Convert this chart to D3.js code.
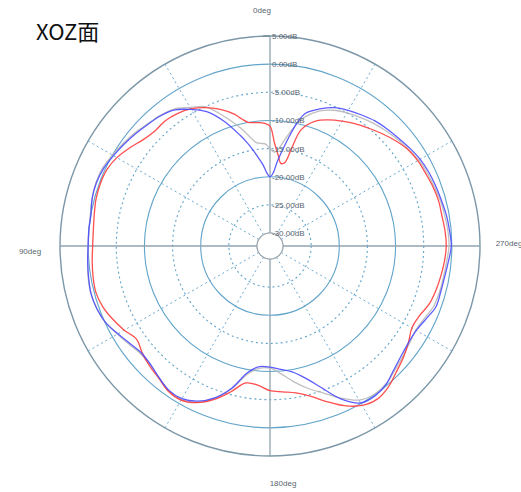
<!DOCTYPE html>
<html>
<head>
<meta charset="utf-8">
<style>
  body { margin: 0; background: #fff; }
  svg { display: block; }
</style>
</head>
<body>
<div id="container"></div>
<script src="https://cdn.jsdelivr.net/npm/d3@7"></script>
<script>
// chart size
const width = 521;
const height = 492;
const cx = 270;
const cy = 246;

// ring levels (dB) and spoke angles (deg, counter-clockwise from top)
const ringLevels = [5, 0, -5, -10, -15, -20, -25, -30];
const spokeAngles = [0, 30, 60, 90, 120, 150, 180, 210, 240, 270, 300, 330];
const angleLabels = ["0deg", "90deg", "180deg", "270deg"];

// measurement angles (deg)
const angles = [0, 2.5, 5, 7.5, 10, 12.5, 15, 20, 25, 30, 35, 40, 45, 50, 55, 60, 65, 70, 75, 80, 85, 90,
  95, 100, 105, 110, 115, 120, 125, 130, 135, 140, 145, 150, 155, 160, 165, 170, 175, 180,
  185, 190, 195, 200, 205, 210, 215, 220, 225, 230, 235, 240, 245, 250, 255, 260, 265, 270,
  275, 280, 285, 290, 295, 300, 305, 310, 315, 320, 325, 330, 335, 340, 345, 347.5, 350, 352.5, 355, 357.5];

// gain (dB) per series
const blueGain = [-20.0, -19.3, -17.8, -16.5, -15.0, -13.5, -12.0, -8.8, -6.0, -4.3, -2.8, -2.1, -1.7, -1.2, -0.7, -0.2, 0.3, 0.5, 0.4, 0.0, 0.0, 0.0,
  0.2, 0.4, 0.6, 0.4, -0.1, -1.1, -2.0, -2.6, -2.4, -1.7, -1.0, -1.0, -1.9, -3.6, -6.2, -9.5, -10.8, -10.8,
  -10.3, -9.6, -8.0, -5.5, -2.3, -0.1, 0.2, -0.2, -1.2, -1.9, -2.3, -2.3, -1.7, -0.9, -0.9, -0.8, -0.5, -0.1,
  -0.3, -0.5, -0.8, -1.0, -1.2, -1.5, -2.0, -2.5, -2.9, -3.3, -3.9, -4.5, -5.2, -6.4, -7.9, -9.8, -12.5, -15.0, -17.2, -19.3];

const redGain = [-11.0, -10.5, -10.3, -10.2, -10.0, -9.2, -8.1, -6.5, -5.2, -4.2, -3.6, -3.3, -3.4, -2.9, -1.9, -0.9, -0.3, -0.2, -0.3, -0.6, -0.8, -0.8,
  -0.6, -0.4, -0.3, -0.7, -1.5, -2.4, -3.4, -2.7, -2.1, -1.6, -0.8, -0.7, -1.6, -3.3, -5.5, -7.6, -7.5, -6.6,
  -6.3, -5.8, -4.7, -2.9, -1.0, 0.4, 0.9, 0.4, -0.6, -1.4, -2.3, -3.2, -3.0, -2.2, -1.8, -1.5, -1.2, -1.0,
  -1.1, -1.3, -1.3, -1.5, -1.8, -2.0, -2.4, -3.2, -4.1, -5.0, -5.8, -6.7, -7.6, -8.7, -10.9, -14.5, -17.3, -17.5, -16.0, -14.0];

const grayGain = [-15.0, -14.2, -14.0, -13.8, -12.8, -11.5, -10.2, -7.6, -5.0, -3.9, -2.6, -2.0, -1.6, -1.0, -0.5, 0.0, 0.5, 0.6, 0.4, 0.1, 0.0, 0.0,
  0.2, 0.5, 0.6, 0.4, -0.1, -1.0, -1.8, -2.4, -2.3, -1.7, -1.0, -0.8, -1.7, -3.5, -6.0, -9.2, -10.5, -10.6,
  -9.5, -7.8, -6.1, -4.5, -2.5, -0.7, -0.1, -0.3, -1.0, -1.6, -2.1, -2.4, -2.0, -1.3, -1.1, -1.0, -0.8, -0.5,
  -0.6, -0.8, -1.0, -1.3, -1.5, -1.8, -2.3, -2.8, -3.3, -3.8, -4.4, -5.0, -5.7, -6.8, -8.6, -10.0, -11.8, -13.5, -15.0, -15.6];

const series = [
  { name: "gray", values: grayGain, color: "#b8b8b8" },
  { name: "red", values: redGain, color: "#ff3b3b" },
  { name: "blue", values: blueGain, color: "#4b4bff" }
];

// radial scale: dB -> pixels
const r = d3.scaleLinear().domain([-30, 5]).range([13, 210]);
const toRad = d => -d * Math.PI / 180; // counter-clockwise from top

const svg = d3.create("svg")
  .attr("width", width)
  .attr("height", height);

const g = svg.append("g").attr("transform", `translate(${cx},${cy})`);

// rings
g.selectAll("circle.ring")
  .data(ringLevels)
  .join("circle")
  .attr("class", "ring")
  .attr("r", d => r(d))
  .attr("fill", "none")
  .attr("stroke", d => d === 5 ? "#7c97a8" : (d === -30 ? "#9aa6ae" : "#62a4ca"))
  .attr("stroke-width", d => d === 5 ? 1.4 : 1.1)
  .attr("stroke-dasharray", d => d % 10 === 0 || d === 5 ? null : "2,3");

// spokes
g.selectAll("line.spoke")
  .data(spokeAngles.filter(a => a % 90 !== 0))
  .join("line")
  .attr("class", "spoke")
  .attr("x1", a => -r(-30) * Math.sin(a * Math.PI / 180))
  .attr("y1", a => -r(-30) * Math.cos(a * Math.PI / 180))
  .attr("x2", a => -r(5) * Math.sin(a * Math.PI / 180))
  .attr("y2", a => -r(5) * Math.cos(a * Math.PI / 180))
  .attr("stroke", "#6aaad0")
  .attr("stroke-width", 1)
  .attr("stroke-dasharray", "2,3");

// main axes
g.append("line")
  .attr("x1", 0).attr("x2", 0)
  .attr("y1", -r(5)).attr("y2", r(5))
  .attr("stroke", "#8fa3b0").attr("stroke-width", 1.3);
g.append("line")
  .attr("x1", -r(5)).attr("x2", r(5))
  .attr("y1", 0).attr("y2", 0)
  .attr("stroke", "#8fa3b0").attr("stroke-width", 1.3);
g.append("line")
  .attr("x1", -7).attr("x2", 0)
  .attr("y1", -r(5)).attr("y2", -r(5))
  .attr("stroke", "#6f8796").attr("stroke-width", 1.2);

// center hole
g.append("circle")
  .attr("r", r(-30))
  .attr("fill", "#fff")
  .attr("stroke", "#9aa6ae")
  .attr("stroke-width", 1.1);

// pattern curves
const line = d3.lineRadial()
  .angle((d, i) => toRad(angles[i]))
  .radius(d => r(d))
  .curve(d3.curveCatmullRomClosed);

g.selectAll("path.trace")
  .data(series)
  .join("path")
  .attr("class", "trace")
  .attr("fill", "none")
  .attr("stroke", d => d.color)
  .attr("stroke-width", 1.3)
  .attr("stroke-opacity", 0.9)
  .attr("d", d => line(d.values));

// dB labels along the vertical axis
g.selectAll("text.db")
  .data(ringLevels)
  .join("text")
  .attr("class", "db")
  .attr("x", 2)
  .attr("y", d => -r(d) + 3)
  .attr("font-family", "Liberation Sans, Arial, sans-serif")
  .attr("font-size", 8)
  .attr("fill", "#5a6670")
  .text(d => d.toFixed(2) + "dB");

// angle labels
const labelPos = [[-8, -233], [-240, 8], [13, 240], [239, 0]];
g.selectAll("text.deg")
  .data(angleLabels)
  .join("text")
  .attr("class", "deg")
  .attr("x", (d, i) => labelPos[i][0])
  .attr("y", (d, i) => labelPos[i][1])
  .attr("text-anchor", "middle")
  .attr("font-family", "Liberation Sans, Arial, sans-serif")
  .attr("font-size", 8)
  .attr("fill", "#5a6670")
  .text(d => d);

// title
svg.append("text")
  .attr("x", 36)
  .attr("y", 40)
  .attr("font-family", "Noto Sans CJK SC, Noto Sans, sans-serif")
  .attr("font-size", 22)
  .attr("fill", "#111")
  .text("XOZ面");

container.append(svg.node());
</script>
</body>
</html>
